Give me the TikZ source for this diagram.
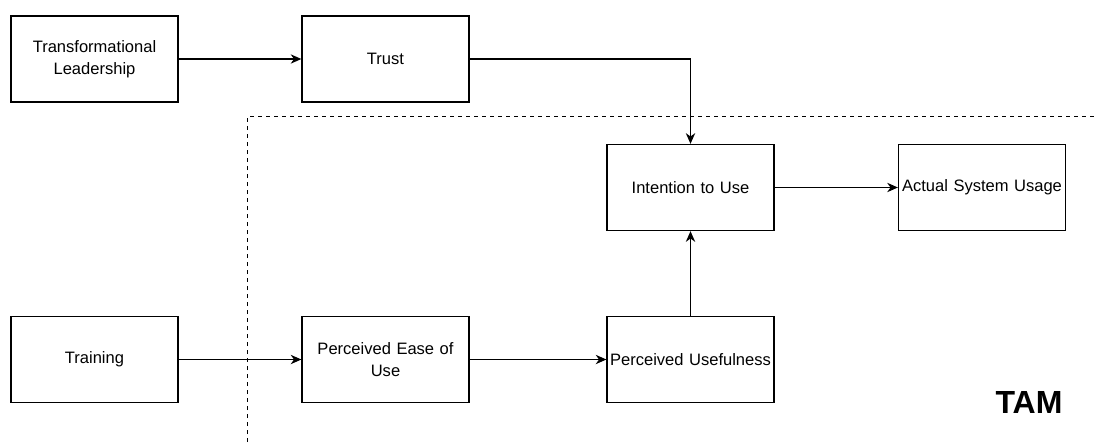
\documentclass[tikz,border=0pt]{standalone}
\usepackage{fontspec}
\setmainfont{Liberation Sans}
\usetikzlibrary{arrows.meta}

\begin{document}
\begin{tikzpicture}[x=0.75pt,y=-0.75pt,
  box/.style={draw,line width=1pt,text width=125pt,align=center,inner xsep=0.1pt,inner ysep=0pt,minimum height=64.5pt,font=\fontsize{12.4}{16.3}\selectfont},
  link/.style={line width=1pt,-{Stealth[length=8pt,width=7pt,inset=2.5pt]}}]

\useasboundingbox (0,0) rectangle (1094,442);

% TAM boundary
\draw[line width=0.75pt,dash pattern=on 3pt off 3pt] (247,442) -- (247,117) -- (1094,117);

% External factors
\node[box] (lead) at (94.5,59) {Transformational\\Leadership};
\node[box] (trust) at (385.5,59) {Trust};
\node[box] (train) at (94.5,359.5) {Training};

% TAM constructs
\node[box] (ease) at (385.5,359.5) {Perceived Ease of\\Use};
\node[box] (useful) at (690.5,359.5) {Perceived Usefulness};
\node[box] (intent) at (690.5,187.5) {Intention to Use};
\node[box] (usage) at (982,187.5) {Actual System Usage};

% Label
\node[anchor=base,font=\fontsize{24}{28}\selectfont\bfseries] (tam) at (1029,413) {TAM};

% Connectors
\draw[link] (lead) -- (trust);
\draw[link] (trust.east) -| (intent.north);
\draw[link] (intent) -- (usage);
\draw[link] (train) -- (ease);
\draw[link] (ease) -- (useful);
\draw[link] (useful) -- (intent);

\end{tikzpicture}
\end{document}
